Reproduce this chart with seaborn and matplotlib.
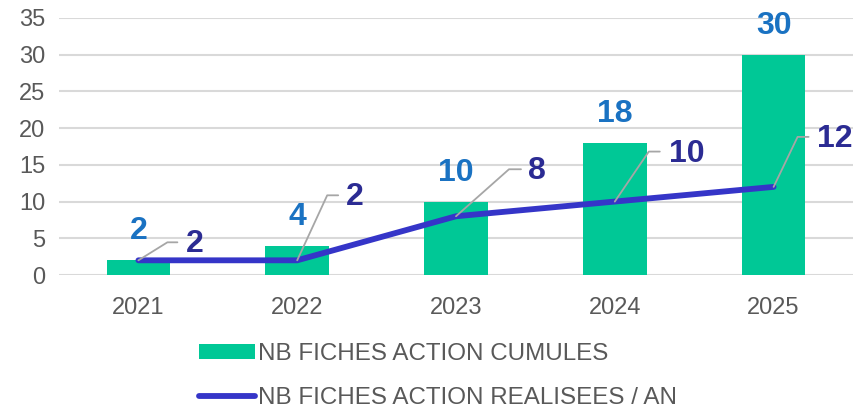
import numpy as np
import pandas as pd
import matplotlib
matplotlib.use("Agg")
import matplotlib.pyplot as plt
import seaborn as sns
from matplotlib.patches import Patch
from matplotlib.lines import Line2D

years = ["2021", "2022", "2023", "2024", "2025"]
cumules = [2, 4, 10, 18, 30]
realisees = [2, 2, 8, 10, 12]
label_cum = "NB FICHES ACTION CUMULES"
label_real = "NB FICHES ACTION REALISEES / AN"

GREEN = "#00C896"
LINE = "#3535C8"
BLUE_LBL = "#1A72C2"
NAVY_LBL = "#2B2B93"
GRAY_TXT = "#595959"

sns.set_theme(style="white")
plt.rcParams['font.family'] = ['Liberation Sans', 'DejaVu Sans']

df = pd.DataFrame({"year": years, "cum": cumules, "real": realisees})

fig = plt.figure(figsize=(8.55, 4.09), dpi=100)
ax = fig.add_axes([59/855, 1-275/409, (853-59)/855, (275-18)/409])

sns.barplot(data=df, x="year", y="cum", color=GREEN, width=0.4, ax=ax,
            saturation=1, linewidth=0, edgecolor="none", zorder=2)
sns.pointplot(data=df, x="year", y="real", color=LINE, markers="", ax=ax,
              errorbar=None, linewidth=4.2, zorder=3)
for l in ax.lines:
    l.set_solid_capstyle("round")
    l.set_solid_joinstyle("round")

ax.set_ylim(0, 35)
ax.set_yticks(range(0, 36, 5))
ax.set_xlim(-0.5, len(years) - 0.5)
ax.grid(axis="y", color="#D9D9D9", linewidth=1.5, zorder=0)
ax.set_axisbelow(True)
for s in ax.spines.values():
    s.set_visible(False)
ax.set_xlabel("")
ax.set_ylabel("")
ax.tick_params(axis="both", length=0, labelsize=17, colors=GRAY_TXT)
ax.tick_params(axis="x", pad=16)
ax.tick_params(axis="y", pad=10)

# bar labels
for i, v in enumerate(cumules):
    ax.annotate(str(v), xy=(i, v), xytext=(0, 14), textcoords="offset pixels",
                ha="center", va="bottom", fontsize=23, fontweight="bold",
                color=BLUE_LBL)

# line labels with leader lines (offsets in pixels)
offsets = [((29, 18), 39, 47), ((30, 65), 41, 49), ((53, 47), 65, 72),
           ((34, 50), 45, 54), ((24, 50), 35, 43)]
for i, v in enumerate(realisees):
    (ex, ey), hx, tx = offsets[i]
    xs_pix = [0, ex, hx]
    ys_pix = [0, ey, ey]
    base = ax.transData.transform((i, v))
    disp = np.array([[base[0] + px, base[1] + py] for px, py in zip(xs_pix, ys_pix)])
    ax.add_line(Line2D(disp[:, 0], disp[:, 1], transform=None, color="#A6A6A6",
                       linewidth=1.3, zorder=4))
    ax.annotate(str(v), xy=(i, v), xytext=(tx, ey - 2), textcoords="offset pixels",
                ha="left", va="center", fontsize=23, fontweight="bold",
                color=NAVY_LBL, zorder=5)

handles = [Patch(facecolor=GREEN, edgecolor="none", label=label_cum),
           Line2D([0], [0], color=LINE, linewidth=4.2, solid_capstyle="round",
                  label=label_real)]
leg = fig.legend(handles=handles, loc="center left",
                 bbox_to_anchor=(199/855, 1-376/409), frameon=False,
                 fontsize=17.4, handlelength=2.3, handletextpad=0.15,
                 labelspacing=0.9, borderpad=0, borderaxespad=0,
                 handleheight=0.6)
for t in leg.get_texts():
    t.set_color(GRAY_TXT)

fig.savefig("out.png", dpi=100)
